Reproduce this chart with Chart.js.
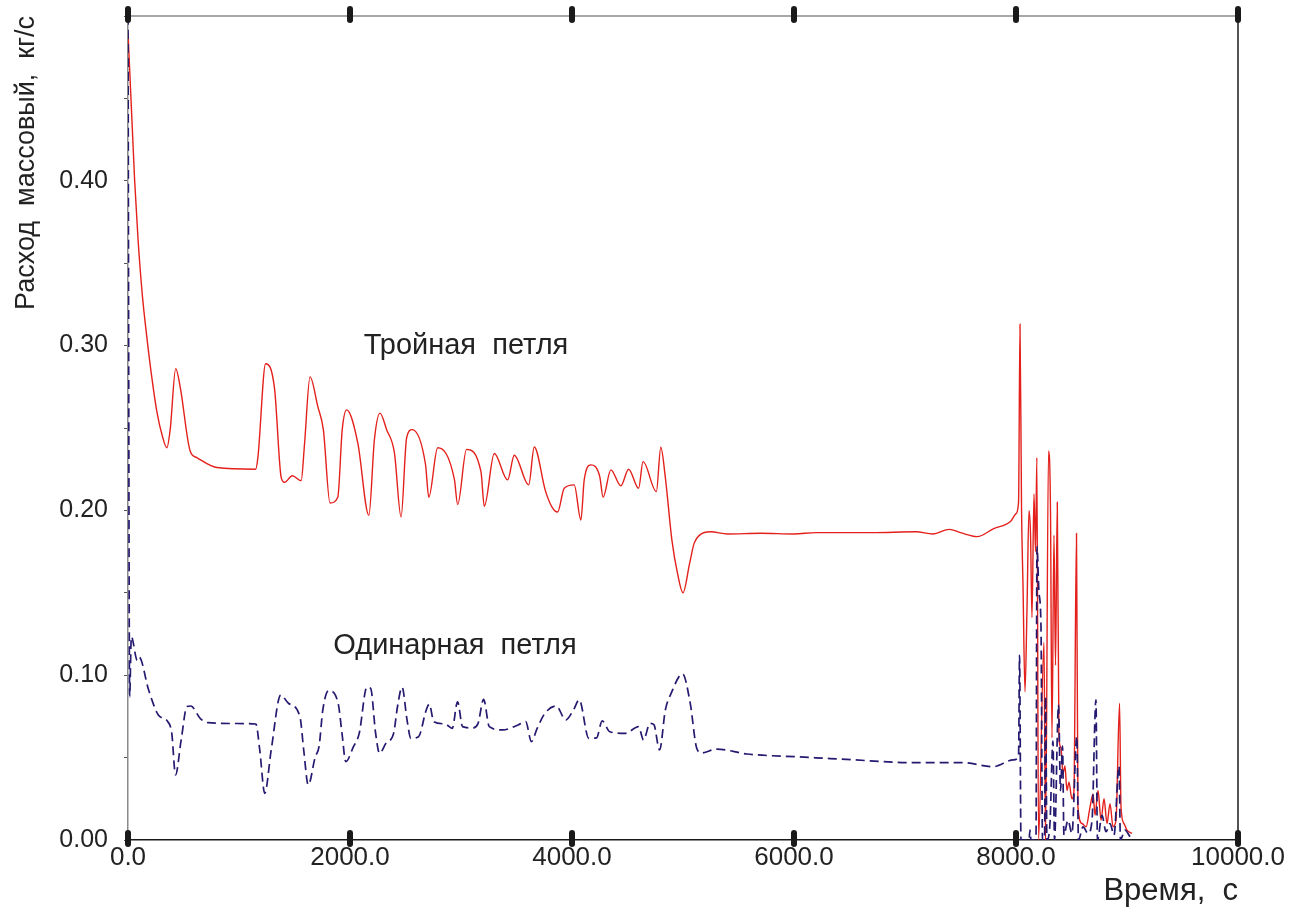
<!DOCTYPE html>
<html>
<head>
<meta charset="utf-8">
<script src="https://cdn.jsdelivr.net/npm/chart.js@4.4.1/dist/chart.umd.min.js"></script>
<style>
  html, body { margin: 0; padding: 0; background: #fff; }
  #wrap { width: 1290px; height: 910px; }
</style>
</head>
<body>
<div id="wrap"><canvas id="grafico" width="1290" height="910"></canvas></div>
<script>
// Тройная петля (красная, сплошная)
const tiempoTriple = [0, 20, 40, 60, 90, 130, 170, 210, 260, 310, 350, 380, 430, 470, 560, 620, 800, 1150, 1170, 1240, 1320, 1380, 1410, 1480, 1560, 1590, 1640, 1710, 1760, 1820, 1890, 1930, 1970, 2070, 2170, 2220, 2270, 2330, 2400, 2460, 2510, 2560, 2680, 2710, 2790, 2940, 2970, 3050, 3180, 3210, 3300, 3420, 3480, 3610, 3660, 3760, 3820, 3870, 3930, 4020, 4080, 4110, 4170, 4250, 4280, 4350, 4440, 4510, 4600, 4640, 4760, 4800, 4840, 4900, 4950, 5000, 5060, 5100, 5150, 5250, 5400, 5700, 6000, 6200, 6700, 7100, 7250, 7400, 7500, 7650, 7800, 7950, 8000, 8023, 8036, 8050, 8063, 8081, 8099, 8117, 8131, 8144, 8162, 8176, 8188, 8203, 8252, 8266, 8293, 8311, 8324, 8342, 8356, 8372, 8387, 8405, 8423, 8441, 8459, 8477, 8504, 8522, 8545, 8558, 8595, 8631, 8667, 8694, 8712, 8739, 8766, 8793, 8820, 8847, 8874, 8901, 8933, 8946, 8973, 9000, 9045];
const flujoTriple = [0.49, 0.46, 0.43, 0.40, 0.365, 0.33, 0.305, 0.283, 0.26, 0.245, 0.238, 0.249, 0.286, 0.275, 0.236, 0.232, 0.226, 0.225, 0.232, 0.289, 0.274, 0.22, 0.217, 0.221, 0.218, 0.24, 0.281, 0.263, 0.249, 0.2045, 0.208, 0.249, 0.261, 0.241, 0.197, 0.243, 0.259, 0.249, 0.235, 0.196, 0.244, 0.249, 0.228, 0.208, 0.238, 0.219, 0.2035, 0.237, 0.2235, 0.2025, 0.2345, 0.2185, 0.2335, 0.2155, 0.2385, 0.212, 0.202, 0.199, 0.2135, 0.2155, 0.1942, 0.2185, 0.2276, 0.2205, 0.208, 0.2246, 0.2149, 0.225, 0.2134, 0.2296, 0.2114, 0.2383, 0.2205, 0.182, 0.162, 0.150, 0.168, 0.180, 0.185, 0.187, 0.1857, 0.1861, 0.1857, 0.1865, 0.1865, 0.187, 0.1857, 0.1885, 0.1865, 0.1841, 0.189, 0.1932, 0.198, 0.205, 0.313, 0.20, 0.155, 0.09, 0.14, 0.20, 0.185, 0.135, 0.21, 0.175, 0.232, 0.0, 0.12, 0.0, 0.236, 0.198, 0.062, 0.185, 0.106, 0.205, 0.062, 0.056, 0.04, 0.045, 0.03, 0.035, 0.025, 0.03, 0.186, 0.02, 0.01, 0.008, 0.02, 0.028, 0.015, 0.03, 0.012, 0.025, 0.01, 0.022, 0.008, 0.012, 0.083, 0.02, 0.01, 0.006, 0.004];

// Одинарная петля (синяя, пунктир)
const tiempoSimple = [0, 15, 30, 83, 100, 186, 273, 359, 394, 428, 479, 531, 566, 652, 721, 962, 1152, 1187, 1232, 1290, 1376, 1445, 1549, 1583, 1624, 1687, 1721, 1755, 1807, 1893, 1928, 1962, 2031, 2083, 2152, 2186, 2231, 2266, 2324, 2393, 2428, 2469, 2514, 2548, 2617, 2687, 2714, 2755, 2858, 2921, 2969, 3014, 3100, 3152, 3204, 3255, 3376, 3514, 3583, 3634, 3686, 3755, 3858, 3944, 4013, 4065, 4151, 4221, 4272, 4341, 4479, 4600, 4644, 4703, 4738, 4789, 4841, 4893, 4996, 5065, 5123, 5168, 5304, 5574, 6024, 6475, 7075, 7525, 7795, 7976, 8023, 8032, 8045, 8117, 8126, 8135, 8180, 8189, 8207, 8225, 8239, 8257, 8266, 8279, 8306, 8333, 8347, 8383, 8401, 8419, 8432, 8468, 8504, 8548, 8563, 8604, 8649, 8685, 8720, 8734, 8775, 8811, 8847, 8883, 8928, 8941, 8982, 9027];
const flujoSimple = [0.5, 0.087, 0.1234, 0.109, 0.111, 0.091, 0.0759, 0.0718, 0.065, 0.0395, 0.0607, 0.081, 0.0813, 0.0737, 0.0712, 0.0707, 0.0704, 0.0546, 0.0283, 0.0546, 0.088, 0.083, 0.0748, 0.0546, 0.0334, 0.0505, 0.0566, 0.0789, 0.0906, 0.083, 0.0647, 0.0475, 0.0566, 0.0647, 0.0927, 0.092, 0.0647, 0.0526, 0.0587, 0.0647, 0.081, 0.0927, 0.0728, 0.0617, 0.0627, 0.0789, 0.0825, 0.0718, 0.0704, 0.0677, 0.0839, 0.0688, 0.068, 0.0705, 0.0853, 0.0688, 0.0668, 0.0698, 0.0718, 0.0597, 0.0677, 0.0768, 0.0813, 0.0728, 0.0789, 0.085, 0.0617, 0.062, 0.0723, 0.0657, 0.0647, 0.0688, 0.0607, 0.0708, 0.07, 0.0546, 0.0789, 0.089, 0.1008, 0.083, 0.0558, 0.0528, 0.0552, 0.0522, 0.0505, 0.0489, 0.0469, 0.0469, 0.0445, 0.0486, 0.0506, 0.112, 0.0, 0.0, 0.006, 0.0, 0.0, 0.178, 0.15, 0.13, 0.0, 0.0, 0.087, 0.0, 0.01, 0.06, 0.0, 0.082, 0.03, 0.057, 0.003, 0.012, 0.004, 0.063, 0.0, 0.008, 0.004, 0.012, 0.085, 0.0, 0.015, 0.005, 0.01, 0.003, 0.045, 0.0, 0.006, 0.002];

const ejeX = { min: 0, max: 10000, paso: 2000 };
const ejeY = { min: 0, max: 0.5, paso: 0.05 };

const etiquetas = [
    { texto: 'Тройная  петля', x: 3045, y: 0.300 },
    { texto: 'Одинарная  петля', x: 2946, y: 0.118 }
];

const fuente = '"Liberation Sans", Arial, sans-serif';

function puntos(xs, ys) {
    return xs.map(function(x, i) { return { x: x, y: ys[i] }; });
}

const marco = {
    id: 'marco',
    afterDatasetsDraw: function(chart) {
        const ctx = chart.ctx;
        const a = chart.chartArea;
        const sx = chart.scales.x;
        ctx.save();
        // borde superior (gris) y derecho (negro)
        ctx.lineWidth = 1.5;
        ctx.strokeStyle = '#8a8a8a';
        ctx.beginPath();
        ctx.moveTo(a.left, a.top);
        ctx.lineTo(a.right, a.top);
        ctx.stroke();
        ctx.strokeStyle = '#1a1a1a';
        ctx.beginPath();
        ctx.moveTo(a.right, a.top);
        ctx.lineTo(a.right, a.bottom);
        ctx.stroke();
        // marcas gruesas del eje X arriba y abajo
        ctx.fillStyle = '#1a1a1a';
        for (let v = ejeX.min; v <= ejeX.max; v += ejeX.paso) {
            const px = sx.getPixelForValue(v);
            [a.top, a.bottom].forEach(function(py) {
                ctx.beginPath();
                ctx.roundRect(px - 3, py - 10, 6, 17, 3);
                ctx.fill();
            });
        }
        // textos de las curvas
        ctx.fillStyle = '#222';
        ctx.font = '29px ' + fuente;
        ctx.textAlign = 'center';
        ctx.textBaseline = 'middle';
        etiquetas.forEach(function(e) {
            ctx.fillText(e.texto, sx.getPixelForValue(e.x), chart.scales.y.getPixelForValue(e.y));
        });
        ctx.restore();
    }
};

new Chart(document.getElementById('grafico'), {
    type: 'line',
    data: {
        datasets: [{
            label: 'Одинарная петля',
            data: puntos(tiempoSimple, flujoSimple),
            borderColor: '#241a70',
            borderWidth: 1.7,
            borderDash: [9, 5],
            pointRadius: 0,
            cubicInterpolationMode: 'monotone',
            order: 1
        }, {
            label: 'Тройная петля',
            data: puntos(tiempoTriple, flujoTriple),
            borderColor: '#e3201b',
            borderWidth: 1.4,
            pointRadius: 0,
            cubicInterpolationMode: 'monotone',
            order: 2
        }]
    },
    options: {
        responsive: false,
        animation: false,
        layout: { padding: { top: 16, right: 52, left: 0, bottom: 0 } },
        plugins: { legend: { display: false }, tooltip: { enabled: false } },
        scales: {
            x: {
                type: 'linear',
                min: ejeX.min,
                max: ejeX.max,
                afterFit: function(s) { s.height = 70; },
                ticks: {
                    stepSize: ejeX.paso,
                    padding: 2,
                    color: '#222',
                    font: { family: fuente, size: 26 },
                    callback: function(v) { return v.toFixed(1); }
                },
                grid: { drawOnChartArea: false, drawTicks: false },
                border: { color: '#1a1a1a', width: 1.5 },
                title: {
                    display: true,
                    text: 'Время,  с',
                    align: 'end',
                    color: '#222',
                    font: { family: fuente, size: 31 },
                    padding: { top: 0, bottom: 0 }
                }
            },
            y: {
                min: ejeY.min,
                max: ejeY.max,
                afterFit: function(s) {
                    s.width = 128;
                    s.paddingTop = 0;
                    s.paddingBottom = 0;
                },
                ticks: {
                    stepSize: ejeY.paso,
                    padding: 16,
                    color: '#222',
                    font: { family: fuente, size: 25 },
                    callback: function(v) {
                        const r = Math.round(v * 100);
                        return (r % 10 === 0 && r < 50) ? v.toFixed(2) : '';
                    }
                },
                grid: { drawOnChartArea: false, tickLength: 4, color: '#555', tickWidth: 1 },
                border: { color: '#8a8a8a', width: 1.5 },
                title: {
                    display: true,
                    text: 'Расход  массовый,  кг/с',
                    align: 'end',
                    color: '#222',
                    font: { family: fuente, size: 27 },
                    padding: { top: 10, bottom: 0 }
                }
            }
        }
    },
    plugins: [marco]
});
</script>
</body>
</html>
